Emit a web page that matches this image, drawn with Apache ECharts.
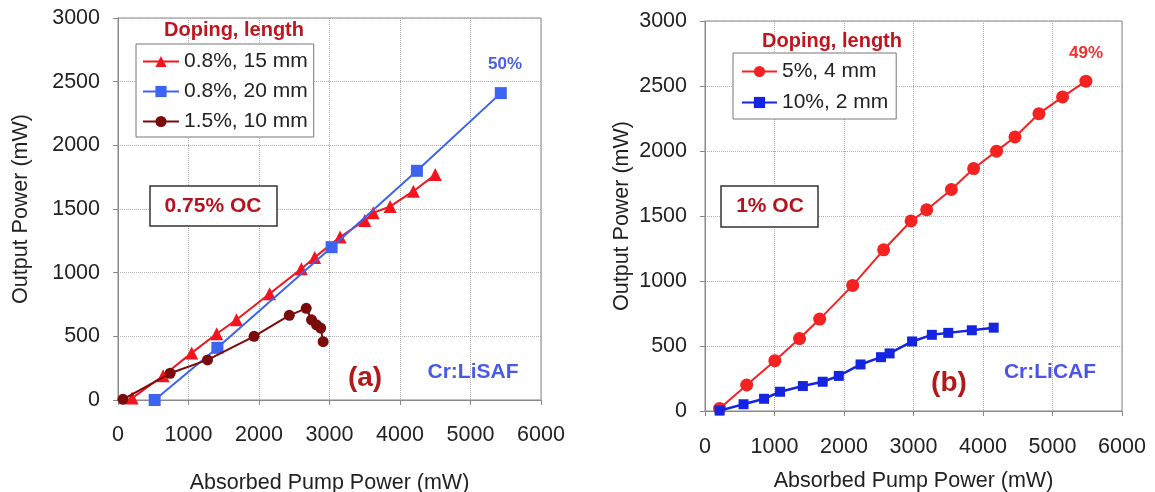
<!DOCTYPE html>
<html><head><meta charset="utf-8">
<script src="https://cdn.jsdelivr.net/npm/echarts@6/dist/echarts.min.js"></script>
<style>html,body{margin:0;padding:0;background:#fff}#c{width:1155px;height:492px}</style>
</head><body><div id="c"></div>
<script>
// ---- Data (a) Cr:LiSAF, 0.75% OC ----
const pumpA_08_15 = [200, 640, 1045, 1400, 1680, 2150, 2600, 2790, 3150, 3500, 3620, 3860, 4190, 4500];
const outA_08_15  = [15, 190, 370, 520, 630, 835, 1030, 1120, 1280, 1410, 1470, 1520, 1640, 1770];
const pumpA_08_20 = [520, 1410, 3030, 4240, 5430];
const outA_08_20  = [0, 410, 1200, 1800, 2410];
const pumpA_15_10 = [70, 740, 1270, 1930, 2430, 2670, 2745, 2815, 2875, 2910];
const outA_15_10  = [5, 210, 315, 500, 665, 720, 630, 590, 565, 458];
// ---- Data (b) Cr:LiCAF, 1% OC ----
const pumpB_5_4  = [210, 600, 1005, 1360, 1650, 2125, 2570, 2965, 3190, 3545, 3865, 4195, 4460, 4805, 5145, 5480];
const outB_5_4   = [20, 200, 387, 557, 707, 966, 1240, 1462, 1548, 1704, 1865, 1999, 2108, 2287, 2416, 2537];
const pumpB_10_2 = [210, 555, 850, 1080, 1408, 1693, 1925, 2238, 2532, 2656, 2980, 3264, 3500, 3839, 4154];
const outB_10_2  = [3, 52, 94, 148, 192, 225, 270, 358, 414, 443, 535, 586, 601, 621, 641];
// names / labels
const namesA = ['0.8%, 15 mm', '0.8%, 20 mm', '1.5%, 10 mm'];
const namesB = ['5%, 4 mm', '10%, 2 mm'];
const xTitle = 'Absorbed Pump Power (mW)';
const yTitle = 'Output Power (mW)';

const FF = '"Liberation Sans", Arial, sans-serif';
const zip = (a, b) => a.map((v, i) => [v, b[i]]);
const plain = v => String(v);

function xAxisCfg(gi, margin, gap) {
  return {
    type: 'value', gridIndex: gi, min: 0, max: 6000, interval: 1000,
    name: xTitle, nameLocation: 'middle', nameGap: gap,
    nameTextStyle: { fontFamily: FF, fontSize: 21.5, color: '#222' },
    axisLine: { show: true, onZero: false, lineStyle: { color: '#888', width: 1 } },
    axisTick: { show: true, inside: false, length: 5, lineStyle: { color: '#888' } },
    axisLabel: { margin: margin, fontSize: 21.5, color: '#222', fontFamily: FF, formatter: plain },
    splitLine: { show: true, lineStyle: { color: '#aaa', type: 'dotted', width: 1 } }
  };
}
function yAxisCfg(gi, margin, gap) {
  return {
    type: 'value', gridIndex: gi, min: 0, max: 3000, interval: 500,
    name: yTitle, nameLocation: 'middle', nameGap: gap, nameRotate: 90,
    nameTextStyle: { fontFamily: FF, fontSize: 21.5, color: '#222' },
    axisLine: { show: true, onZero: false, lineStyle: { color: '#888', width: 1 } },
    axisTick: { show: true, inside: false, length: 5, lineStyle: { color: '#888' } },
    axisLabel: { margin: margin, fontSize: 21.5, color: '#222', fontFamily: FF, formatter: plain },
    splitLine: { show: true, lineStyle: { color: '#aaa', type: 'dotted', width: 1 } }
  };
}
function lineSeries(name, data, color, symbol, size, xi, lw, z) {
  return {
    type: 'line', name: name, data: data, xAxisIndex: xi, yAxisIndex: xi,
    symbol: symbol, symbolSize: size, showSymbol: true, z: z,
    lineStyle: { color: color, width: lw },
    itemStyle: { color: color, borderWidth: 0 },
    emphasis: { disabled: true }, animation: false
  };
}

const chart = echarts.init(document.getElementById('c'), null, { renderer: 'canvas' });
chart.setOption({
  backgroundColor: '#fff',
  animation: false,
  grid: [
    { left: 118, top: 18, width: 423, height: 382, show: true, borderColor: '#888', borderWidth: 1, backgroundColor: 'transparent', containLabel: false, outerBoundsMode: 'none' },
    { left: 705, top: 21, width: 417, height: 390, show: true, borderColor: '#888', borderWidth: 1, backgroundColor: 'transparent', containLabel: false, outerBoundsMode: 'none' }
  ],
  xAxis: [xAxisCfg(0, 24, 72), xAxisCfg(1, 25, 59)],
  yAxis: [yAxisCfg(0, 18, 86), yAxisCfg(1, 18, 72)],
  legend: [
    {
      data: namesA, orient: 'vertical', left: 136, top: 44,
      padding: [7, 6, 5, 6], itemGap: 9, itemWidth: 36, itemHeight: 14,
      borderColor: '#777', borderWidth: 1, backgroundColor: '#fff',
      textStyle: { fontSize: 21, fontFamily: FF, color: '#222', lineHeight: 21 },
      selectedMode: false
    },
    {
      data: namesB, orient: 'vertical', left: 733, top: 53,
      padding: [8, 8, 6, 8], itemGap: 10, itemWidth: 35, itemHeight: 14,
      borderColor: '#777', borderWidth: 1, backgroundColor: '#fff',
      textStyle: { fontSize: 21, fontFamily: FF, color: '#222', lineHeight: 21 },
      selectedMode: false
    }
  ],
  series: [
    lineSeries(namesA[0], zip(pumpA_08_15, outA_08_15), '#f5141e', 'triangle', 13, 0, 2, 3),
    lineSeries(namesA[1], zip(pumpA_08_20, outA_08_20), '#3d63f2', 'rect', 12, 0, 2, 4),
    lineSeries(namesA[2], zip(pumpA_15_10, outA_15_10), '#7b0a0a', 'circle', 11, 0, 2, 5),
    lineSeries(namesB[0], zip(pumpB_5_4, outB_5_4), '#f52222', 'circle', 13, 1, 2, 3),
    lineSeries(namesB[1], zip(pumpB_10_2, outB_10_2), '#1424e0', 'rect', 10, 1, 2.5, 4)
  ],
  graphic: [
    { type: 'text', x: 164, y: 30, z: 10, style: { text: 'Doping, length', fontFamily: FF, fontSize: 20, fontWeight: 'bold', fill: '#c0141e', align: 'left', verticalAlign: 'middle' } },
    { type: 'rect', z: 10, shape: { x: 150, y: 186, width: 127, height: 40 }, style: { fill: '#fff', stroke: '#333', lineWidth: 1.5 } },
    { type: 'text', x: 213, y: 206, z: 11, style: { text: '0.75% OC', fontFamily: FF, fontSize: 21, fontWeight: 'bold', fill: '#b5141e', align: 'center', verticalAlign: 'middle' } },
    { type: 'text', x: 365, y: 378, z: 10, style: { text: '(a)', fontFamily: FF, fontSize: 28, fontWeight: 'bold', fill: '#b01a1a', align: 'center', verticalAlign: 'middle' } },
    { type: 'text', x: 473, y: 372, z: 10, style: { text: 'Cr:LiSAF', fontFamily: FF, fontSize: 21, fontWeight: 'bold', fill: '#4a5ae8', align: 'center', verticalAlign: 'middle' } },
    { type: 'text', x: 505, y: 64, z: 10, style: { text: '50%', fontFamily: FF, fontSize: 17, fontWeight: 'bold', fill: '#4a60e0', align: 'center', verticalAlign: 'middle' } },

    { type: 'text', x: 762, y: 41, z: 10, style: { text: 'Doping, length', fontFamily: FF, fontSize: 20, fontWeight: 'bold', fill: '#c0141e', align: 'left', verticalAlign: 'middle' } },
    { type: 'rect', z: 10, shape: { x: 721, y: 186, width: 97, height: 41 }, style: { fill: '#fff', stroke: '#333', lineWidth: 1.5 } },
    { type: 'text', x: 770, y: 206, z: 11, style: { text: '1% OC', fontFamily: FF, fontSize: 21, fontWeight: 'bold', fill: '#b5141e', align: 'center', verticalAlign: 'middle' } },
    { type: 'text', x: 949, y: 383, z: 10, style: { text: '(b)', fontFamily: FF, fontSize: 28, fontWeight: 'bold', fill: '#b01a1a', align: 'center', verticalAlign: 'middle' } },
    { type: 'text', x: 1050, y: 372, z: 10, style: { text: 'Cr:LiCAF', fontFamily: FF, fontSize: 21, fontWeight: 'bold', fill: '#4a55e8', align: 'center', verticalAlign: 'middle' } },
    { type: 'text', x: 1086, y: 53, z: 10, style: { text: '49%', fontFamily: FF, fontSize: 17, fontWeight: 'bold', fill: '#ec3232', align: 'center', verticalAlign: 'middle' } }
  ]
});
</script></body></html>
